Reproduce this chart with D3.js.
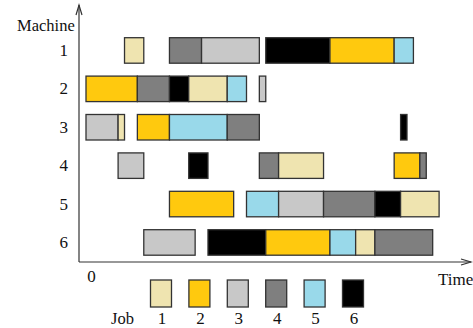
<!DOCTYPE html>
<html><head><meta charset="utf-8">
<script src="https://cdn.jsdelivr.net/npm/d3@7"></script>
<style>body{margin:0;background:#fff}svg{display:block}text{font-family:"Liberation Serif","Times New Roman",serif;fill:#111}</style>
</head><body><svg id="c" width="473" height="328"></svg>
<script>
// Jobs and colours
const jobs = [1, 2, 3, 4, 5, 6];
const jobColors = ["#EFE4B0", "#FFC90E", "#C8C8C8", "#7F7F7F", "#99D9EA", "#000000"];
const machines = [1, 2, 3, 4, 5, 6];
// operations per machine: [job, start, end]
const machine1 = [[1, 6, 9], [4, 13, 18], [3, 18, 27], [6, 28, 38], [2, 38, 48], [5, 48, 51]];
const machine2 = [[2, 0, 8], [4, 8, 13], [6, 13, 16], [1, 16, 22], [5, 22, 25], [3, 27, 28]];
const machine3 = [[3, 0, 5], [1, 5, 6], [2, 8, 13], [5, 13, 22], [4, 22, 27], [6, 49, 50]];
const machine4 = [[3, 5, 9], [6, 16, 19], [4, 27, 30], [1, 30, 37], [2, 48, 52], [4, 52, 53]];
const machine5 = [[2, 13, 23], [5, 25, 30], [3, 30, 37], [4, 37, 45], [6, 45, 49], [1, 49, 55]];
const machine6 = [[3, 9, 17], [6, 19, 28], [2, 28, 38], [5, 38, 42], [1, 42, 45], [4, 45, 54]];
const schedule = [machine1, machine2, machine3, machine4, machine5, machine6];
const timeTicks = [0];

const svg = d3.select("#c");
const x = d3.scaleLinear().domain([0, 55]).range([86, 86 + 55 * 6.42]);
const y = d3.scaleBand().domain(machines).range([31.25, 261.65]).paddingInner(0.336).paddingOuter(0.168);
const color = d3.scaleOrdinal().domain(jobs).range(jobColors);

const ops = [];
schedule.forEach((list, i) => list.forEach(([job, s, e]) => ops.push({m: machines[i], job, s, e})));

svg.append("g").selectAll("rect").data(ops).join("rect")
  .attr("x", d => x(d.s)).attr("y", d => y(d.m))
  .attr("width", d => x(d.e) - x(d.s)).attr("height", y.bandwidth())
  .attr("fill", d => color(d.job)).attr("stroke", "#333").attr("stroke-width", 1.3);

// axes lines with arrows
const ax = svg.append("g").attr("stroke", "#333").attr("stroke-width", 1.2).attr("fill", "none");
ax.append("line").attr("x1", 79).attr("y1", 262).attr("x2", 79).attr("y2", 5);
ax.append("path").attr("d", "M76,15L79,5L82,15");
ax.append("line").attr("x1", 79).attr("y1", 262).attr("x2", 471).attr("y2", 262);
ax.append("path").attr("d", "M461,259L471,262L461,265");

// machine labels via axis
const yAxis = svg.append("g").attr("transform", "translate(79,0)")
  .call(d3.axisLeft(y).tickSize(0).tickPadding(11));
yAxis.select(".domain").remove();
yAxis.selectAll("text").attr("font-size", 17).attr("font-family", "Liberation Serif").attr("fill", "#111");

const xAxis = svg.append("g").attr("transform", "translate(5,262)")
  .call(d3.axisBottom(x).tickValues(timeTicks).tickSize(0).tickPadding(8));
xAxis.select(".domain").remove();
xAxis.selectAll("text").attr("font-size", 17).attr("font-family", "Liberation Serif").attr("fill", "#111");

svg.append("text").attr("x", 17).attr("y", 31).attr("font-size", 16.5).text("Machine");
svg.append("text").attr("x", 438).attr("y", 285).attr("font-size", 17).text("Time");

// legend
const lx = d3.scalePoint().domain(jobs).range([161, 353]);
const lg = svg.append("g");
lg.selectAll("rect").data(jobs).join("rect")
  .attr("x", d => lx(d) - 10.5).attr("y", 280).attr("width", 21).attr("height", 27)
  .attr("fill", d => color(d)).attr("stroke", "#333").attr("stroke-width", 1.3);
lg.selectAll("text").data(jobs).join("text")
  .attr("x", d => lx(d) + 1).attr("y", 323.5).attr("text-anchor", "middle").attr("font-size", 17).text(d => d);
svg.append("text").attr("x", 111).attr("y", 323.5).attr("font-size", 16.5).text("Job");
</script></body></html>
